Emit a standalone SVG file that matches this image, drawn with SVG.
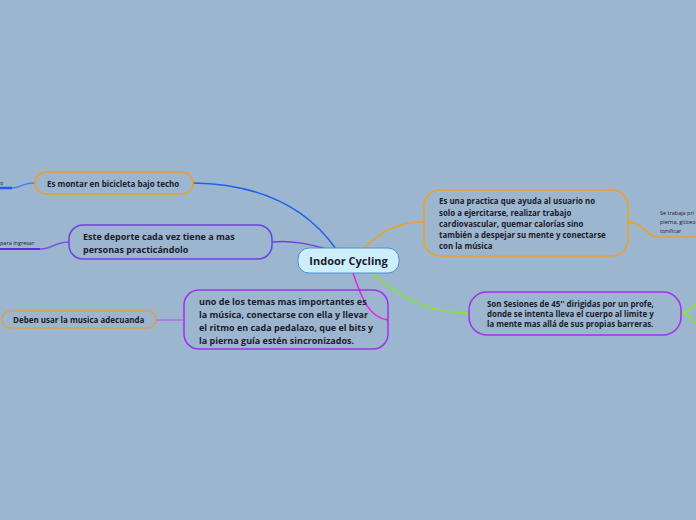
<svg xmlns="http://www.w3.org/2000/svg" width="696" height="520" viewBox="0 0 696 520">
<style>
.t{font-family:"Open Sans","Noto Sans","Liberation Sans",sans-serif;font-weight:bold;fill:#1b1b2b}
.s{font-family:"Open Sans","Noto Sans","Liberation Sans",sans-serif;font-size:5.5px;fill:#1b1b2b}
.n{fill:none;stroke-width:1.5}
.c{fill:none;stroke-width:1.5}
</style>
<rect width="696" height="520" fill="#9db6cf"/>
<g id="connectors">
<path class="c" stroke="#1f5ff0" d="M336,249 C305,205 255,184 193,183"/>
<path class="c" stroke="#6f3fe6" d="M334,251 C310,244 292,240 272,242"/>
<path class="c" stroke="#f0a020" d="M363,249 C385,228 400,222 424,222"/>
<path class="c" stroke="#84ea1e" d="M371,273 C405,300 430,313 469,313"/>
<path class="c" stroke="#e422e6" d="M353,273 C362,300 370,318 388,320"/>
<path class="c" stroke="#b06ce2" d="M156,320 L184,320"/>
<path class="c" stroke="#f0a020" d="M628,222 C645,222 645,237 658,237 L696,237"/>
<path class="c" stroke="#84ea1e" d="M681,313 C688,313 690,308 696,304 M681,313 C688,313 690,318 696,324"/>
<path class="c" stroke="#4a7ff0" d="M35,183 C20,183 22,188 12,188"/>
<path stroke="#1f5ff0" stroke-width="2.5" d="M0,188 L12,188"/>
<path class="c" stroke="#7a54e6" d="M69,242 C55,242 52,249 40,249"/>
<path stroke="#5a2ee0" stroke-width="2" d="M0,249 L40,249"/>
</g>
<g id="center">
<rect x="298" y="248" width="101" height="25" rx="11" fill="#cdeefd" stroke="#4a8fd0" stroke-width="1"/>
<text class="t" x="348.5" y="264.5" font-size="11" text-anchor="middle" fill="#1a2a4a">Indoor Cycling</text>
</g>
<g id="n-montar">
<rect class="n" x="35" y="172" width="158" height="22" rx="11" stroke="#e8a030"/>
<text class="t" x="47" y="186.5" font-size="8">Es montar en bicicleta bajo techo</text>
</g>
<g id="n-deporte">
<rect class="n" x="69" y="225" width="203" height="34" rx="14" stroke="#6f3fe6"/>
<text class="t" font-size="9"><tspan x="83" y="240">Este deporte cada vez tiene a mas</tspan><tspan x="83" y="252.5">personas practicándolo</tspan></text>
</g>
<g id="n-musica">
<rect class="n" x="184" y="290" width="204" height="59" rx="15" stroke="#a12ef0"/>
<text class="t" font-size="9"><tspan x="199" y="305">uno de los temas mas importantes es</tspan><tspan x="199" y="318">la música, conectarse con ella y llevar</tspan><tspan x="199" y="331">el ritmo en cada pedalazo, que el bits y</tspan><tspan x="199" y="344">la pierna guía estén sincronizados.</tspan></text>
</g>
<g id="n-deben">
<rect class="n" x="2" y="311" width="154" height="17" rx="8.5" stroke="#e0a040"/>
<text class="t" x="13" y="322.5" font-size="8" fill="#16404a">Deben usar la musica adecuanda</text>
</g>
<g id="n-practica">
<rect class="n" x="424" y="190" width="204" height="66" rx="16" stroke="#f0a020"/>
<text class="t" font-size="7.9"><tspan x="439" y="204">Es una practica que ayuda al usuario no</tspan><tspan x="439" y="215.5">solo a ejercitarse, realizar trabajo</tspan><tspan x="439" y="226.5">cardiovascular, quemar calorías sino</tspan><tspan x="439" y="237.5">también a despejar su mente y conectarse</tspan><tspan x="439" y="248.5">con la música</tspan></text>
</g>
<g id="n-sesiones">
<rect class="n" x="469" y="292" width="212" height="43" rx="18" stroke="#a12ef0"/>
<text class="t" font-size="7.9" fill="#16404a"><tspan x="487" y="307">Son Sesiones de 45'' dirigidas por un profe,</tspan><tspan x="487" y="317">donde se intenta lleva el cuerpo al limite y</tspan><tspan x="487" y="327">la mente mas allá de sus propias barreras.</tspan></text>
</g>
<g id="n-trabaja">
<text class="s"><tspan x="660" y="215">Se trabaja pri</tspan><tspan x="660" y="224">pierna, glúteo</tspan><tspan x="660" y="233">tonificar</tspan></text>
</g>
<g id="n-left1">
<text class="s" x="0" y="185">o</text>
</g>
<g id="n-left2">
<text class="s" x="0" y="245">para ingresar</text>
</g>
</svg>
